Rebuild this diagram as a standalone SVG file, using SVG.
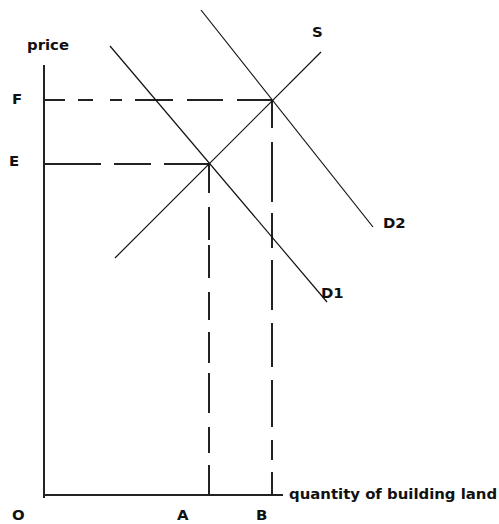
<svg xmlns="http://www.w3.org/2000/svg" width="499" height="524" viewBox="0 0 499 524">
<style>
.ax{stroke:#222;stroke-width:2;fill:none}
.ds{stroke:#222;stroke-width:2;fill:none}
.cv{stroke:#111;stroke-width:1.2;fill:none}
text{font-family:"DejaVu Sans","Liberation Sans",sans-serif;font-weight:bold;font-size:14.9px;fill:#111}
</style>
<rect width="499" height="524" fill="#fff"/>
<g id="axes">
<line class="ax" x1="44" y1="65" x2="44" y2="498"/>
<line class="ax" x1="44" y1="495" x2="283" y2="495"/>
</g>
<g id="connectors">
<path id="dash-F" class="ds" d="M44 100H65M78 100H93M110 100H122M135 100H173M187 100H223M237 100H272"/>
<path id="dash-E" class="ds" d="M44 164H101M114 164H151M164 164H209"/>
<path id="dash-A" class="ds" d="M209 164V193M209 207V240M209 245V278M209 292V320M209 332V363M209 373V413M209 427V453M209 465V495"/>
<path id="dash-B" class="ds" d="M272 100V128M272 142V202M272 213V248M272 260V310M272 323V367M272 380V427M272 440V460M272 472V495"/>
</g>
<g id="curve-S"><line class="cv" x1="115" y1="258" x2="321" y2="52"/></g>
<g id="curve-D1"><line class="cv" x1="110" y1="46" x2="327" y2="302"/></g>
<g id="curve-D2"><line class="cv" x1="201" y1="10" x2="373" y2="227"/></g>
<g id="labels">
<text x="27" y="50">price</text>
<text x="12" y="104">F</text>
<text x="9" y="166">E</text>
<text x="312" y="37">S</text>
<text x="383" y="228">D2</text>
<text x="321" y="298">D1</text>
<text x="12" y="520">O</text>
<text x="177" y="520">A</text>
<text x="256" y="520">B</text>
<text x="289" y="499">quantity of building land</text>
</g>
</svg>
